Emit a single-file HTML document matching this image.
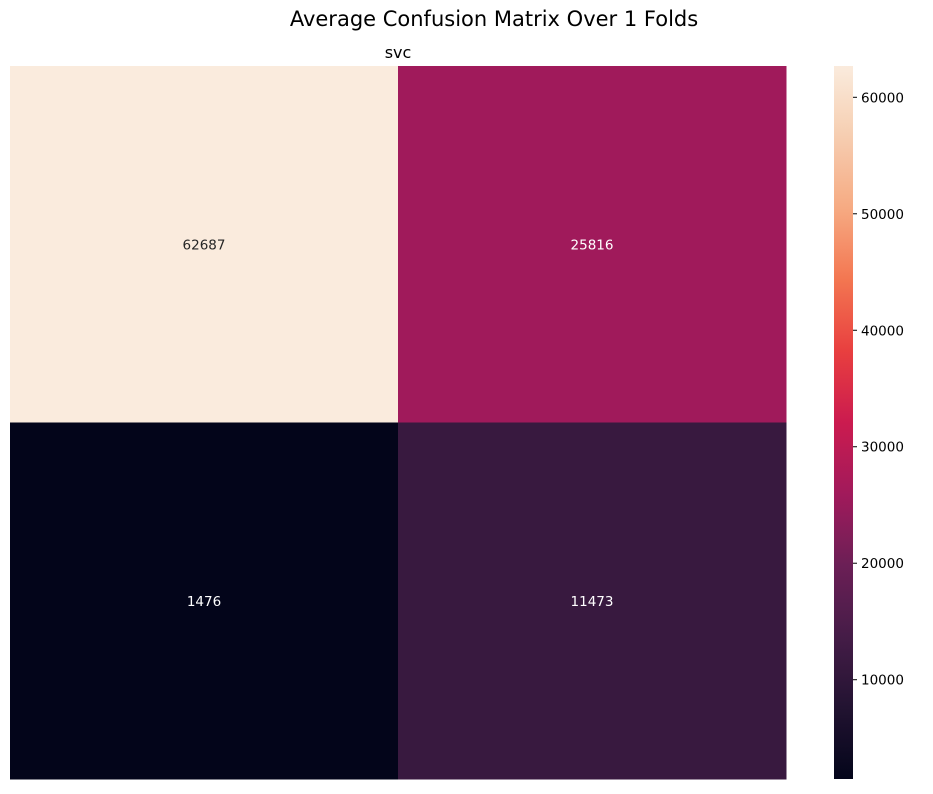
<!DOCTYPE html>
<html><head><meta charset="utf-8"><style>
body{margin:0;background:#fff;font-family:"Liberation Sans","DejaVu Sans",sans-serif;}
svg text{font-family:"DejaVu Sans","Liberation Sans",sans-serif;}
</style></head><body>
<svg id="chart" width="933" height="789" xmlns="http://www.w3.org/2000/svg">
<defs><linearGradient id="cbgrad" x1="0" y1="1" x2="0" y2="0"></linearGradient></defs>
<text x="494" y="26" font-size="21" text-anchor="middle" fill="#000">Average Confusion Matrix Over 1 Folds</text>
<text x="398" y="58" font-size="16" text-anchor="middle" fill="#000">svc</text>
<g id="cells"></g>
<rect x="834" y="66" width="19" height="713" fill="url(#cbgrad)"/>
<g id="cbticks"></g>
</svg>
<script>
const rowLabels=["0","1"];
const colLabels=["0","1"];
const row0=[62687,25816];
const row1=[1476,11473];
const cbTicks=[10000,20000,30000,40000,50000,60000];
const stops=[[0,"#03051A"],[0.1,"#221331"],[0.2,"#451C47"],[0.3,"#6B1F56"],[0.4,"#A11A5B"],[0.5,"#CB1B4F"],[0.6,"#E83F3F"],[0.7,"#F37651"],[0.8,"#F6AA82"],[0.9,"#F6CDB0"],[1,"#FAEBDD"]];
const matrix=[row0,row1];
const NS="http://www.w3.org/2000/svg";
const all=matrix.flat();
const vmin=Math.min(...all),vmax=Math.max(...all);
const X0=10,X1=786,Y0=66,Y1=779;
function hex(h){return [1,3,5].map(i=>parseInt(h.substr(i,2),16));}
function cmap(t){t=Math.max(0,Math.min(1,t));for(let i=1;i<stops.length;i++){if(t<=stops[i][0]){const a=stops[i-1],b=stops[i];const f=(t-a[0])/(b[0]-a[0]);const ca=hex(a[1]),cb=hex(b[1]);return "rgb("+ca.map((v,k)=>Math.round(v+(cb[k]-v)*f)).join(",")+")";}}return stops[stops.length-1][1];}
function norm(v){return (v-vmin)/(vmax-vmin);}
const cw=(X1-X0)/colLabels.length,ch=(Y1-Y0)/rowLabels.length;
const g=document.getElementById("cells");
matrix.forEach((row,r)=>row.forEach((v,c)=>{
 const rect=document.createElementNS(NS,"rect");
 rect.setAttribute("x",X0+c*cw);rect.setAttribute("y",Y0+r*ch);rect.setAttribute("width",cw+0.5);rect.setAttribute("height",ch+0.5);
 rect.setAttribute("fill",cmap(norm(v)));
 
 
 g.appendChild(rect);
 const t=document.createElementNS(NS,"text");
 t.setAttribute("x",X0+(c+0.5)*cw);t.setAttribute("y",Y0+(r+0.5)*ch+5);
 t.setAttribute("text-anchor","middle");t.setAttribute("font-size","13.5");
 t.setAttribute("fill",norm(v)>0.6?"#262626":"#ffffff");
 t.textContent=v;
 
 
 g.appendChild(t);
}));
const grad=document.getElementById("cbgrad");
for(let i=0;i<=40;i++){const s=document.createElementNS(NS,"stop");s.setAttribute("offset",i/40);s.setAttribute("stop-color",cmap(i/40));grad.appendChild(s);}
const tg=document.getElementById("cbticks");
function cy(v){return Y1-norm(v)*(Y1-Y0);}
cbTicks.forEach(v=>{
 const y=cy(v);
 const l=document.createElementNS(NS,"line");
 l.setAttribute("x1",853);l.setAttribute("x2",857);l.setAttribute("y1",y);l.setAttribute("y2",y);l.setAttribute("stroke","#000");
 
 
 tg.appendChild(l);
 const t=document.createElementNS(NS,"text");
 t.setAttribute("x",861);t.setAttribute("y",y+5);t.setAttribute("font-size","13.5");t.setAttribute("fill","#000");
 t.textContent=v;
 
 
 tg.appendChild(t);
});
</script>
</body></html>
